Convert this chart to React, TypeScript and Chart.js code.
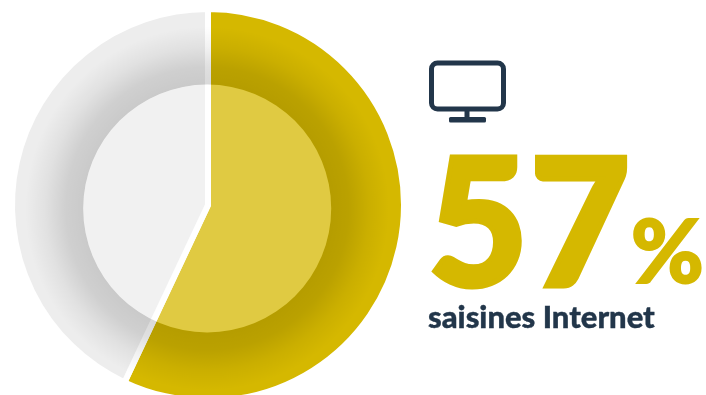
import React, { useEffect, useRef } from "react";
import { Chart, registerables } from "chart.js";

Chart.register(...registerables);

const categories = ["saisines Internet", "autres saisines"];
const shares = [57, 43];
const sliceColors = ["#D5B800", "#EDEDED"];
const headline = "57";
const headlineUnit = "%";
const caption = "saisines Internet";

const INK = "#22364A";
const GOLD = "#D5B800";

// Soft shadow around the inner disc, then the translucent disc itself.
const innerDisc = {
  id: "innerDisc",
  afterDatasetsDraw(chart: any) {
    const { ctx } = chart;
    const arc = chart.getDatasetMeta(0).data[0];
    const cx = arc.x;
    const cy = arc.y;
    const discX = cx - 0.8;
    const discY = cy + 3.5;
    const discR = 124;
    const ringR = 193;

    ctx.save();
    const shade = ctx.createRadialGradient(discX, discY, discR, discX, discY, discR + 58);
    shade.addColorStop(0, "rgba(0,0,0,0.15)");
    shade.addColorStop(0.3, "rgba(0,0,0,0.125)");
    shade.addColorStop(0.65, "rgba(0,0,0,0.05)");
    shade.addColorStop(1, "rgba(0,0,0,0)");
    ctx.beginPath();
    ctx.arc(cx, cy, ringR, 0, Math.PI * 2);
    ctx.arc(discX, discY, discR, 0, Math.PI * 2, true);
    ctx.fillStyle = shade;
    ctx.fill("evenodd");

    ctx.beginPath();
    ctx.arc(discX, discY, discR, 0, Math.PI * 2);
    ctx.fillStyle = "rgba(255,255,255,0.26)";
    ctx.fill();
    ctx.restore();
  },
};

function MonitorIcon() {
  return (
    <svg
      width="84"
      height="68"
      viewBox="0 0 84 68"
      style={{ position: "absolute", left: 425, top: 57 }}
    >
      <rect x="6.5" y="6" width="72" height="46" rx="6" fill="none" stroke={INK} strokeWidth="5" />
      <rect x="39.5" y="52" width="5" height="9" fill={INK} />
      <rect x="24" y="60" width="37" height="5.5" rx="1.5" fill={INK} />
    </svg>
  );
}

export default function App() {
  const canvasRef = useRef<HTMLCanvasElement | null>(null);

  useEffect(() => {
    if (!canvasRef.current) return;
    const chart = new Chart(canvasRef.current, {
      type: "pie",
      data: {
        labels: categories,
        datasets: [
          {
            data: shares,
            backgroundColor: sliceColors,
            borderColor: "#FFFFFF",
            borderWidth: 6,
            borderJoinStyle: "miter",
          },
        ],
      },
      options: {
        responsive: false,
        animation: false,
        layout: { padding: { left: 9, right: 299, top: 6, bottom: 16 } },
        plugins: { legend: { display: false }, tooltip: { enabled: false } },
      },
      plugins: [innerDisc],
    });
    return () => chart.destroy();
  }, []);

  return (
    <div
      style={{
        position: "fixed",
        left: 0,
        top: 0,
        width: 706,
        height: 395,
        overflow: "hidden",
        background: "#FFFFFF",
        fontFamily: "Lato, sans-serif",
      }}
    >
      <canvas
        ref={canvasRef}
        width={706}
        height={420}
        style={{ position: "absolute", left: 0, top: 0, width: 706, height: 420 }}
      />
      <MonitorIcon />
      <div
        style={{
          position: "absolute",
          left: 428,
          top: 110,
          fontSize: 178,
          fontWeight: 900,
          lineHeight: "214px",
          color: GOLD,
          letterSpacing: 2,
          WebkitTextStroke: `5px ${GOLD}`,
          transform: "scaleX(0.97)",
          transformOrigin: "left top",
          whiteSpace: "nowrap",
        }}
      >
        {headline}
      </div>
      <div
        style={{
          position: "absolute",
          left: 631,
          top: 196,
          fontSize: 88,
          fontWeight: 900,
          lineHeight: "106px",
          color: GOLD,
          WebkitTextStroke: `2px ${GOLD}`,
          whiteSpace: "nowrap",
        }}
      >
        {headlineUnit}
      </div>
      <div
        style={{
          position: "absolute",
          left: 428,
          top: 298,
          fontSize: 31,
          fontWeight: 900,
          lineHeight: "37px",
          color: INK,
          WebkitTextStroke: `0.4px ${INK}`,
          whiteSpace: "nowrap",
        }}
      >
        {caption}
      </div>
    </div>
  );
}
